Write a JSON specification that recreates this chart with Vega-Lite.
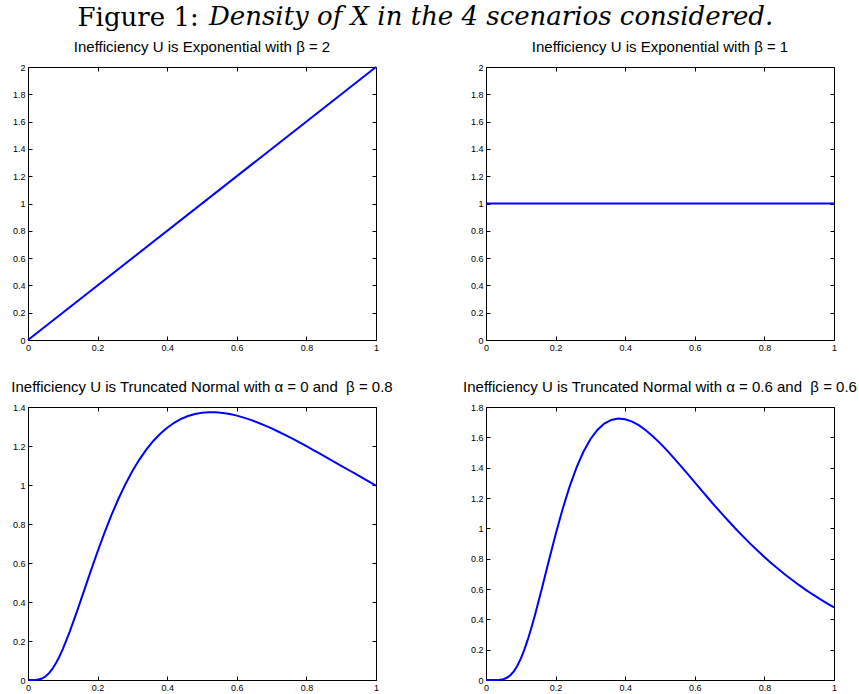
{
  "$schema": "https://vega.github.io/schema/vega-lite/v6.json",
  "background": "white",
  "padding": {"left": 11, "top": 4, "right": 5, "bottom": 3},
  "title": {"text": "Figure 1:", "font": "DejaVu Serif", "fontSize": 26, "fontWeight": "normal", "fontStyle": "normal", "color": "black", "anchor": "middle", "dx": -296, "dy": 27, "offset": 0},
  "datasets": {
    "p1": [{"x": 0, "y": 0}, {"x": 1, "y": 2}],
    "p2": [{"x": 0, "y": 1}, {"x": 1, "y": 1}],
    "p3": [
      {"x": 0, "y": 0}, {"x": 0.01, "y": 0}, {"x": 0.02, "y": 0.0003}, {"x": 0.03, "y": 0.0022}, {"x": 0.04, "y": 0.0076}, {"x": 0.05, "y": 0.018}, {"x": 0.06, "y": 0.0343}, {"x": 0.07, "y": 0.0568}, {"x": 0.08, "y": 0.0854}, {"x": 0.09, "y": 0.1195},
      {"x": 0.1, "y": 0.1585}, {"x": 0.12, "y": 0.248}, {"x": 0.14, "y": 0.3477}, {"x": 0.16, "y": 0.4521}, {"x": 0.18, "y": 0.5571}, {"x": 0.2, "y": 0.659}, {"x": 0.22, "y": 0.7561}, {"x": 0.24, "y": 0.8465}, {"x": 0.26, "y": 0.9293}, {"x": 0.28, "y": 1.0043},
      {"x": 0.3, "y": 1.0713}, {"x": 0.32, "y": 1.1303}, {"x": 0.34, "y": 1.1816}, {"x": 0.36, "y": 1.2258}, {"x": 0.38, "y": 1.263}, {"x": 0.4, "y": 1.2939}, {"x": 0.42, "y": 1.319}, {"x": 0.44, "y": 1.3388}, {"x": 0.46, "y": 1.3536}, {"x": 0.48, "y": 1.3641},
      {"x": 0.5, "y": 1.3705}, {"x": 0.52, "y": 1.3733}, {"x": 0.54, "y": 1.3729}, {"x": 0.56, "y": 1.3696}, {"x": 0.58, "y": 1.3638}, {"x": 0.6, "y": 1.3557}, {"x": 0.62, "y": 1.3456}, {"x": 0.64, "y": 1.3338}, {"x": 0.66, "y": 1.3205}, {"x": 0.68, "y": 1.3058},
      {"x": 0.7, "y": 1.29}, {"x": 0.72, "y": 1.2732}, {"x": 0.74, "y": 1.2556}, {"x": 0.76, "y": 1.2373}, {"x": 0.78, "y": 1.2184}, {"x": 0.8, "y": 1.1991}, {"x": 0.82, "y": 1.1794}, {"x": 0.84, "y": 1.1595}, {"x": 0.86, "y": 1.1393}, {"x": 0.88, "y": 1.119},
      {"x": 0.9, "y": 1.0986}, {"x": 0.92, "y": 1.0782}, {"x": 0.94, "y": 1.0579}, {"x": 0.96, "y": 1.0376}, {"x": 0.98, "y": 1.0174}, {"x": 1, "y": 0.9974}
    ],
    "p4": [
      {"x": 0, "y": 0}, {"x": 0.02, "y": 0}, {"x": 0.03, "y": 0.0002}, {"x": 0.04, "y": 0.0014}, {"x": 0.05, "y": 0.0055}, {"x": 0.06, "y": 0.0146}, {"x": 0.07, "y": 0.0312}, {"x": 0.08, "y": 0.0573}, {"x": 0.09, "y": 0.0938},
      {"x": 0.1, "y": 0.1411}, {"x": 0.11, "y": 0.1987}, {"x": 0.12, "y": 0.2658}, {"x": 0.13, "y": 0.341}, {"x": 0.14, "y": 0.4226}, {"x": 0.16, "y": 0.5988}, {"x": 0.18, "y": 0.7815}, {"x": 0.2, "y": 0.9597}, {"x": 0.22, "y": 1.1254}, {"x": 0.24, "y": 1.2733}, {"x": 0.26, "y": 1.4002}, {"x": 0.28, "y": 1.5047},
      {"x": 0.3, "y": 1.5873}, {"x": 0.32, "y": 1.6486}, {"x": 0.34, "y": 1.6906}, {"x": 0.36, "y": 1.7149}, {"x": 0.38, "y": 1.7239}, {"x": 0.4, "y": 1.7194}, {"x": 0.42, "y": 1.7036}, {"x": 0.44, "y": 1.6783}, {"x": 0.46, "y": 1.6453}, {"x": 0.48, "y": 1.6059},
      {"x": 0.5, "y": 1.5617}, {"x": 0.52, "y": 1.5137}, {"x": 0.54, "y": 1.463}, {"x": 0.56, "y": 1.4104}, {"x": 0.58, "y": 1.3568}, {"x": 0.6, "y": 1.3027}, {"x": 0.62, "y": 1.2486}, {"x": 0.64, "y": 1.195}, {"x": 0.66, "y": 1.1421}, {"x": 0.68, "y": 1.0904},
      {"x": 0.7, "y": 1.0399}, {"x": 0.72, "y": 0.9908}, {"x": 0.74, "y": 0.9434}, {"x": 0.76, "y": 0.8975}, {"x": 0.78, "y": 0.8534}, {"x": 0.8, "y": 0.811}, {"x": 0.82, "y": 0.7704}, {"x": 0.84, "y": 0.7315}, {"x": 0.86, "y": 0.6944}, {"x": 0.88, "y": 0.6589},
      {"x": 0.9, "y": 0.6251}, {"x": 0.92, "y": 0.5929}, {"x": 0.94, "y": 0.5623}, {"x": 0.96, "y": 0.5332}, {"x": 0.98, "y": 0.5056}, {"x": 1, "y": 0.4793}
    ]
  },
  "vconcat": [
    {
      "title": {"text": "Density of X in the 4 scenarios considered.", "font": "DejaVu Serif", "fontSize": 26, "fontWeight": "normal", "fontStyle": "italic", "color": "black", "anchor": "middle", "dx": 57, "offset": 10},
      "columns": 2,
      "spacing": {"row": 67, "column": 110},
      "bounds": "flush",
      "concat": [
        {
          "width": 348, "height": 273,
          "data": {"name": "p1"},
          "title": "Inefficiency U is Exponential with β = 2",
          "layer": [
            {"mark": {"type": "line", "color": "#0000ff", "strokeWidth": 2},
             "encoding": {
               "x": {"field": "x", "type": "quantitative", "scale": {"domain": [0, 1], "nice": false}, "axis": {"orient": "bottom", "values": [0, 0.2, 0.4, 0.6, 0.8, 1]}},
               "y": {"field": "y", "type": "quantitative", "scale": {"domain": [0, 2], "nice": false}, "axis": {"orient": "left", "values": [0, 0.2, 0.4, 0.6, 0.8, 1, 1.2, 1.4, 1.6, 1.8, 2]}}}},
            {"mark": {"type": "line", "strokeOpacity": 0},
             "encoding": {
               "x": {"field": "x", "type": "quantitative", "axis": {"orient": "top", "labels": false, "values": [0, 0.2, 0.4, 0.6, 0.8, 1]}},
               "y": {"field": "y", "type": "quantitative", "axis": {"orient": "right", "labels": false, "values": [0, 0.2, 0.4, 0.6, 0.8, 1, 1.2, 1.4, 1.6, 1.8, 2]}}}}
          ],
          "resolve": {"axis": {"x": "independent", "y": "independent"}}
        },
        {
          "width": 348, "height": 273,
          "data": {"name": "p2"},
          "title": "Inefficiency U is Exponential with β = 1",
          "layer": [
            {"mark": {"type": "line", "color": "#0000ff", "strokeWidth": 2},
             "encoding": {
               "x": {"field": "x", "type": "quantitative", "scale": {"domain": [0, 1], "nice": false}, "axis": {"orient": "bottom", "values": [0, 0.2, 0.4, 0.6, 0.8, 1]}},
               "y": {"field": "y", "type": "quantitative", "scale": {"domain": [0, 2], "nice": false}, "axis": {"orient": "left", "values": [0, 0.2, 0.4, 0.6, 0.8, 1, 1.2, 1.4, 1.6, 1.8, 2]}}}},
            {"mark": {"type": "line", "strokeOpacity": 0},
             "encoding": {
               "x": {"field": "x", "type": "quantitative", "axis": {"orient": "top", "labels": false, "values": [0, 0.2, 0.4, 0.6, 0.8, 1]}},
               "y": {"field": "y", "type": "quantitative", "axis": {"orient": "right", "labels": false, "values": [0, 0.2, 0.4, 0.6, 0.8, 1, 1.2, 1.4, 1.6, 1.8, 2]}}}}
          ],
          "resolve": {"axis": {"x": "independent", "y": "independent"}}
        },
        {
          "width": 348, "height": 273,
          "data": {"name": "p3"},
          "title": "Inefficiency U is Truncated Normal with α = 0 and\u00a0 β = 0.8",
          "layer": [
            {"mark": {"type": "line", "color": "#0000ff", "strokeWidth": 2},
             "encoding": {
               "x": {"field": "x", "type": "quantitative", "scale": {"domain": [0, 1], "nice": false}, "axis": {"orient": "bottom", "values": [0, 0.2, 0.4, 0.6, 0.8, 1]}},
               "y": {"field": "y", "type": "quantitative", "scale": {"domain": [0, 1.4], "nice": false}, "axis": {"orient": "left", "values": [0, 0.2, 0.4, 0.6, 0.8, 1, 1.2, 1.4]}}}},
            {"mark": {"type": "line", "strokeOpacity": 0},
             "encoding": {
               "x": {"field": "x", "type": "quantitative", "axis": {"orient": "top", "labels": false, "values": [0, 0.2, 0.4, 0.6, 0.8, 1]}},
               "y": {"field": "y", "type": "quantitative", "axis": {"orient": "right", "labels": false, "values": [0, 0.2, 0.4, 0.6, 0.8, 1, 1.2, 1.4]}}}}
          ],
          "resolve": {"axis": {"x": "independent", "y": "independent"}}
        },
        {
          "width": 348, "height": 273,
          "data": {"name": "p4"},
          "title": "Inefficiency U is Truncated Normal with α = 0.6 and\u00a0 β = 0.6",
          "layer": [
            {"mark": {"type": "line", "color": "#0000ff", "strokeWidth": 2},
             "encoding": {
               "x": {"field": "x", "type": "quantitative", "scale": {"domain": [0, 1], "nice": false}, "axis": {"orient": "bottom", "values": [0, 0.2, 0.4, 0.6, 0.8, 1]}},
               "y": {"field": "y", "type": "quantitative", "scale": {"domain": [0, 1.8], "nice": false}, "axis": {"orient": "left", "values": [0, 0.2, 0.4, 0.6, 0.8, 1, 1.2, 1.4, 1.6, 1.8]}}}},
            {"mark": {"type": "line", "strokeOpacity": 0},
             "encoding": {
               "x": {"field": "x", "type": "quantitative", "axis": {"orient": "top", "labels": false, "values": [0, 0.2, 0.4, 0.6, 0.8, 1]}},
               "y": {"field": "y", "type": "quantitative", "axis": {"orient": "right", "labels": false, "values": [0, 0.2, 0.4, 0.6, 0.8, 1, 1.2, 1.4, 1.6, 1.8]}}}}
          ],
          "resolve": {"axis": {"x": "independent", "y": "independent"}}
        }
      ]
    }
  ],
  "config": {
    "view": {"stroke": null},
    "title": {"font": "Liberation Sans", "fontSize": 15, "fontWeight": "normal", "color": "black", "offset": 8},
    "axis": {"grid": false, "title": null, "domainColor": "black", "domainWidth": 1, "tickColor": "black", "tickWidth": 1, "tickSize": -4, "labelPadding": 7, "labelFont": "Liberation Sans", "labelFontSize": 9, "labelColor": "black", "labelFlush": false, "labelOverlap": false, "format": "~g"}
  }
}
